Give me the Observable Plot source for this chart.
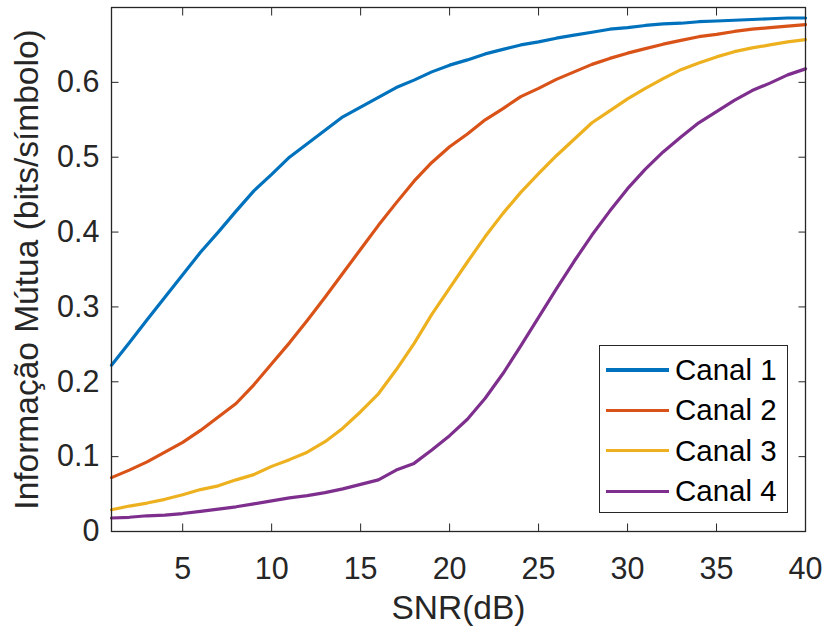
<!DOCTYPE html>
<html>
<head>
<meta charset="utf-8">
<script src="https://cdn.jsdelivr.net/npm/d3@7"></script>
<script src="https://cdn.jsdelivr.net/npm/@observablehq/plot@0.6"></script>
<style>
  body { margin: 0; background: #fff; }
  #wrap { position: relative; width: 825px; height: 630px; font-family: "Liberation Sans", Arial, Helvetica, sans-serif; }
  #legend { position: absolute; left: 599px; top: 345px; width: 189px; height: 168px; border: 1.2px solid #262626; background: #fff; box-sizing: border-box; }
  .row { position: absolute; left: 0; height: 40px; display: flex; align-items: center; }
  .sw { display: inline-block; width: 63px; height: 3.2px; margin-left: 6px; margin-right: 6px; }
  .lab { font-size: 29.5px; color: #000; line-height: 40px; }
</style>
</head>
<body>
<div id="wrap"></div>
<script>
// ---- Data ----
const snr = d3.range(1, 41);
const canal1 = [0.222,0.252,0.283,0.313,0.343,0.373,0.400,0.428,0.455,0.477,
                0.500,0.518,0.536,0.554,0.567,0.580,0.593,0.603,0.614,0.623,
                0.630,0.638,0.644,0.650,0.654,0.659,0.663,0.667,0.671,0.673,
                0.676,0.678,0.679,0.681,0.682,0.683,0.684,0.685,0.686,0.686];
const canal2 = [0.072,0.082,0.093,0.106,0.119,0.135,0.153,0.171,0.196,0.224,
                0.252,0.282,0.313,0.345,0.377,0.409,0.439,0.468,0.493,0.514,
                0.531,0.550,0.565,0.581,0.592,0.604,0.614,0.624,0.632,0.639,
                0.645,0.651,0.656,0.661,0.664,0.668,0.671,0.673,0.675,0.677];
const canal3 = [0.029,0.034,0.038,0.043,0.049,0.056,0.061,0.069,0.076,0.087,
                0.096,0.106,0.120,0.138,0.160,0.184,0.216,0.251,0.290,0.325,
                0.360,0.394,0.425,0.453,0.478,0.502,0.524,0.546,0.562,0.578,
                0.592,0.605,0.617,0.626,0.634,0.641,0.646,0.650,0.654,0.657];
const canal4 = [0.018,0.019,0.021,0.022,0.024,0.027,0.030,0.033,0.037,0.041,
                0.045,0.048,0.052,0.057,0.063,0.069,0.082,0.091,0.109,0.128,
                0.150,0.178,0.211,0.248,0.286,0.324,0.361,0.396,0.428,0.458,
                0.484,0.507,0.527,0.546,0.561,0.576,0.589,0.599,0.610,0.618];
const seriesNames = ["Canal 1", "Canal 2", "Canal 3", "Canal 4"];
const seriesColors = ["#0072BD", "#D95319", "#EDB120", "#7E2F8E"];
const xTicks = [5, 10, 15, 20, 25, 30, 35, 40];
const yTicks = [0, 0.1, 0.2, 0.3, 0.4, 0.5, 0.6];
const xLabel = "SNR(dB)";
const yLabel = "Informação Mútua (bits/símbolo)";

const allSeries = [canal1, canal2, canal3, canal4];
const rows = [];
allSeries.forEach((vals, i) => vals.forEach((v, j) => rows.push({snr: snr[j], mi: v, canal: seriesNames[i]})));

const ink = "#262626";
const font = "'Liberation Sans', Arial, Helvetica, sans-serif";

const chart = Plot.plot({
  width: 825,
  height: 630,
  marginLeft: 111,
  marginRight: 20,
  marginTop: 7,
  marginBottom: 99,
  style: {fontFamily: font, background: "white", color: ink},
  x: {domain: [1, 40]},
  y: {domain: [0, 0.7]},
  color: {domain: seriesNames, range: seriesColors},
  marks: [
    Plot.line(rows, {x: "snr", y: "mi", z: "canal", stroke: "canal", strokeWidth: 3.2, curve: "linear"}),
    Plot.frame({stroke: ink, strokeWidth: 1.3}),
    // inward ticks on all four sides (box on)
    Plot.axisX(xTicks, {anchor: "bottom", tickSize: -7.5, fill: "none", stroke: ink, label: null}),
    Plot.axisX(xTicks, {anchor: "top", tickSize: -7.5, fill: "none", stroke: ink, label: null}),
    Plot.axisY(yTicks, {anchor: "left", tickSize: -7.5, fill: "none", stroke: ink, label: null}),
    Plot.axisY(yTicks, {anchor: "right", tickSize: -7.5, fill: "none", stroke: ink, label: null}),
    // tick labels
    Plot.axisX(xTicks, {anchor: "bottom", tickSize: 0, tickPadding: 26, fontSize: 30.5, fill: ink, label: null}),
    Plot.axisY(yTicks, {anchor: "left", tickSize: 0, tickPadding: 12, fontSize: 30.5, fill: ink, label: null, tickFormat: d => d3.format("~g")(d)}),
    // axis titles
    Plot.text([xLabel], {frameAnchor: "bottom", text: d => d, dy: 87, lineAnchor: "bottom", textAnchor: "middle", fontSize: 33.5, fill: ink}),
    Plot.text([yLabel], {frameAnchor: "left", text: d => d, dx: -74, rotate: -90, lineAnchor: "bottom", textAnchor: "middle", fontSize: 33.5, fill: ink})
  ]
});

const wrap = document.getElementById("wrap");
wrap.appendChild(chart);

const legend = document.createElement("div");
legend.id = "legend";
seriesNames.forEach((name, i) => {
  const row = document.createElement("div");
  row.className = "row";
  row.style.top = (4 + 40.4 * i) + "px";
  const sw = document.createElement("span");
  sw.className = "sw";
  sw.style.background = seriesColors[i];
  const lab = document.createElement("span");
  lab.className = "lab";
  lab.textContent = name;
  row.appendChild(sw);
  row.appendChild(lab);
  legend.appendChild(row);
});
wrap.appendChild(legend);
</script>
</body>
</html>
